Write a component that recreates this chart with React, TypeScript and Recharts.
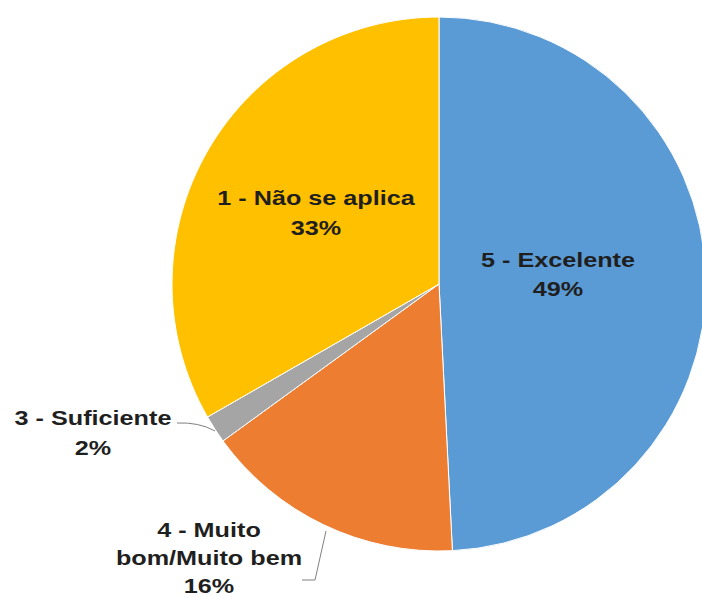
import React from 'react';
import { PieChart, Pie, Cell } from 'recharts';

const categories = ['5 - Excelente', '4 - Muito bom/Muito bem', '3 - Suficiente', '1 - Não se aplica'];
const values = [49.2, 15.8, 1.7, 33.3];
const colors = ['#5B9BD5', '#ED7D31', '#A5A5A5', '#FFC000'];
const labelLines: string[][] = [['5 - Excelente'], ['4 - Muito', 'bom/Muito bem'], ['3 - Suficiente'], ['1 - Não se aplica']];

const data = categories.map((name, i) => ({ name, value: values[i] }));

const FONT = '"Liberation Sans", Arial, sans-serif';
const FS = 21;
const SX = 1.2;
const TEXT_COLOR = '#1f1f1f';

// label layout relative to pie center: [centerDx, firstBaselineDy, lineStep]
const layout: Record<number, [number, number, number]> = {
  0: [119, -17, 29],
  1: [-230, 253, 28],
  2: [-346, 141, 30],
  3: [-123, -79, 30],
};

const renderLabel = (props: any) => {
  const { cx, cy, percent, index } = props;
  const lines = [...labelLines[index], `${Math.round(percent * 100)}%`];
  const [dx, dy, step] = layout[index];
  const x = cx + dx;
  const common = {
    fontFamily: FONT,
    fontSize: FS,
    fontWeight: 700,
    fill: TEXT_COLOR,
    textAnchor: 'middle' as const,
  };
  let leader: React.ReactNode = null;
  if (index === 2) {
    leader = (
      <path
        d={`M${cx - 224},${cy + 147} Q${cx - 240},${cy + 138} ${cx - 262},${cy + 139}`}
        stroke="#808080"
        strokeWidth={1}
        fill="none"
      />
    );
  } else if (index === 1) {
    leader = (
      <path
        d={`M${cx - 113},${cy + 247} L${cx - 124},${cy + 296} L${cx - 137},${cy + 296}`}
        stroke="#808080"
        strokeWidth={1}
        fill="none"
      />
    );
  }
  return (
    <g key={`lbl-${index}`}>
      {leader}
      <g transform={`translate(${x},0) scale(${SX},1) translate(${-x},0)`}>
        {lines.map((l, i) => (
          <text key={i} x={x} y={cy + dy + i * step} {...common}>
            {l}
          </text>
        ))}
      </g>
    </g>
  );
};

export default function App() {
  return (
    <div style={{ position: 'absolute', left: 0, top: 0, width: 702, height: 598, background: '#fff', overflow: 'hidden' }}>
      <PieChart width={702} height={598} margin={{ top: 0, right: 0, bottom: 0, left: 0 }}>
        <Pie
          data={data}
          dataKey="value"
          nameKey="name"
          cx={439}
          cy={284}
          outerRadius={267}
          startAngle={90}
          endAngle={-270}
          stroke="#ffffff"
          strokeWidth={1}
          label={renderLabel}
          labelLine={false}
          isAnimationActive={false}
        >
          {data.map((d, i) => (
            <Cell key={d.name} fill={colors[i]} />
          ))}
        </Pie>
      </PieChart>
    </div>
  );
}
